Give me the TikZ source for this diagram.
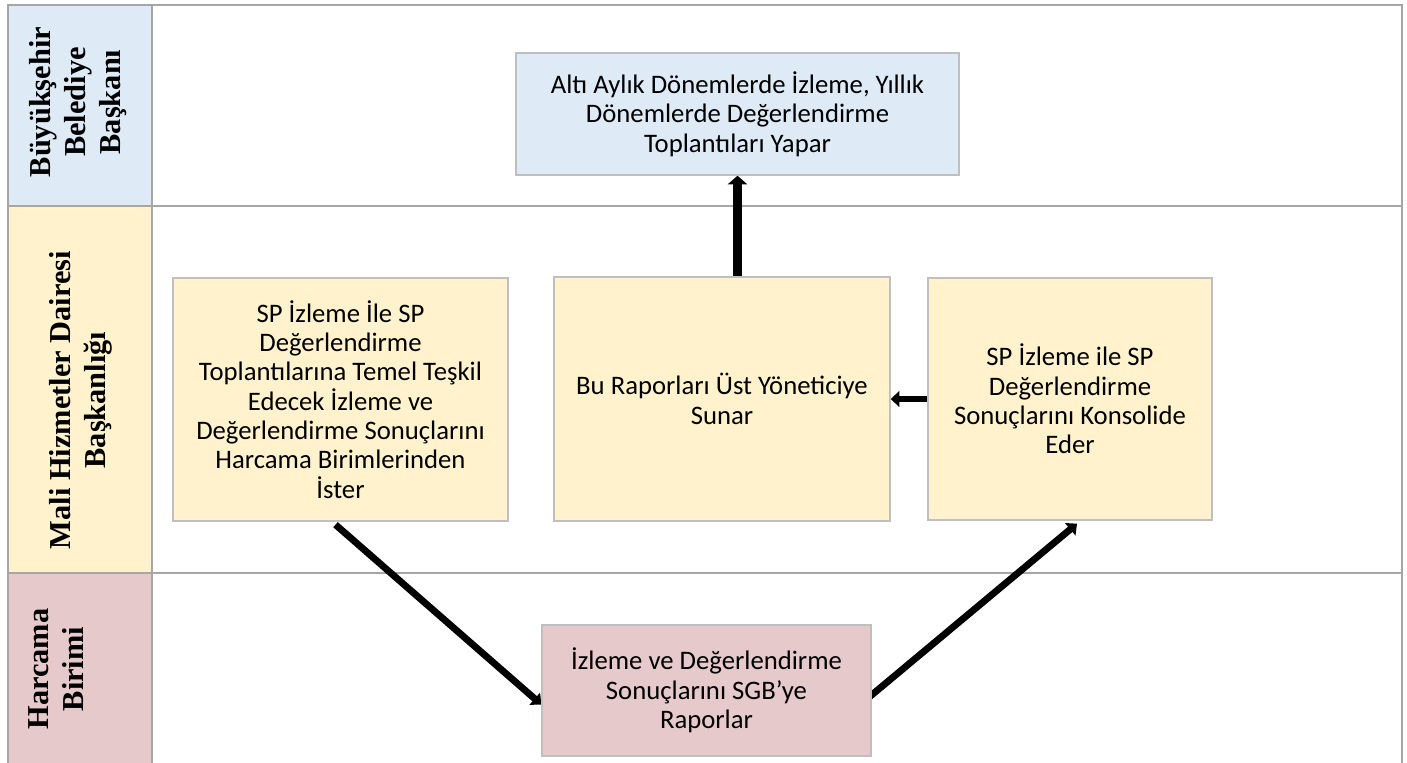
\documentclass[tikz,border=0pt]{standalone}
\usepackage{fontspec}
\setmainfont{Carlito}
\newfontfamily\lanefont{Liberation Serif}
\usepackage{xcolor}
\usepackage{tikz}
\usetikzlibrary{arrows.meta}
\usetikzlibrary{calc}
\pgfdeclarelayer{background}
\pgfdeclarelayer{edgelayer}
\pgfdeclarelayer{nodelayer}
\pgfsetlayers{background,edgelayer,nodelayer,main}
\definecolor{lanegray}{RGB}{166,166,166}
\definecolor{boxgray}{RGB}{191,191,191}
\definecolor{bluefill}{RGB}{222,234,246}
\definecolor{yellowfill}{RGB}{255,242,204}
\definecolor{pinkfill}{RGB}{230,201,202}
\tikzstyle{none}=[inner sep=0mm]
\tikzstyle{lane}=[draw=lanegray,line width=1.1pt]
\tikzstyle{lanetitle}=[inner sep=0mm,rotate=90,align=center,font=\lanefont\bfseries\fontsize{17.3}{20}\selectfont]
\tikzstyle{stepbox}=[draw=boxgray,line width=0.8pt,align=center,inner sep=2pt,font=\fontsize{15.2}{16.7}\selectfont]
\tikzstyle{bluebox}=[stepbox,fill=bluefill]
\tikzstyle{yellowbox}=[stepbox,fill=yellowfill]
\tikzstyle{pinkbox}=[stepbox,fill=pinkfill]
\tikzstyle{flow}=[line width=3.9pt,-{Triangle[length=5pt,width=9pt]}]
\tikzstyle{bigflow}=[line width=5.5pt,-{Triangle[length=5pt,width=11pt]}]

\begin{document}
\begin{tikzpicture}[x=0.02cm,y=-0.02cm]
	\useasboundingbox (0,0) rectangle (1407,762);
	\begin{pgfonlayer}{background}
		% lane headers
		\fill [bluefill] (8,5) rectangle (152,206);
		\fill [yellowfill] (8,206) rectangle (152,573);
		\fill [pinkfill] (8,573) rectangle (152,770);
		\draw [style=lane] (8,770) -- (8,5) -- (1402,5) -- (1402,770);
		\draw [style=lane] (152,5) -- (152,770);
		\draw [style=lane] (8,206) -- (1402,206);
		\draw [style=lane] (8,573) -- (1402,573);
	\end{pgfonlayer}
	\begin{pgfonlayer}{nodelayer}
		\node [style=lanetitle] (baskan) at (78,102) {Büyükşehir\\Belediye\\Başkanı};
		\node [style=lanetitle] (mali) at (81,400) {Mali Hizmetler Dairesi\\Başkanlığı};
		\node [style=lanetitle] (harcama) at (56,669) {Harcama\\Birimi};
		\node [style=bluebox, minimum width=8.86cm, minimum height=2.44cm] (ust) at (737.5,114) {Altı Aylık Dönemlerde İzleme, Yıllık\\Dönemlerde Değerlendirme\\Toplantıları Yapar};
		\node [style=yellowbox, minimum width=6.7cm, minimum height=4.86cm] (istek) at (340.5,399.5) {SP İzleme İle SP\\Değerlendirme\\Toplantılarına Temel Teşkil\\Edecek İzleme ve\\Değerlendirme Sonuçlarını\\Harcama Birimlerinden\\İster};
		\node [style=yellowbox, minimum width=6.72cm, minimum height=4.88cm] (sunar) at (722,399) {Bu Raporları Üst Yöneticiye\\Sunar};
		\node [style=yellowbox, minimum width=5.68cm, minimum height=4.84cm] (konsolide) at (1070,399) {SP İzleme ile SP\\Değerlendirme\\Sonuçlarını Konsolide\\Eder};
		\node [style=pinkbox, minimum width=6.58cm, minimum height=2.62cm] (rapor) at (706.5,690.5) {İzleme ve Değerlendirme\\Sonuçlarını SGB’ye\\Raporlar};
	\end{pgfonlayer}
	\begin{pgfonlayer}{edgelayer}
		\draw [style=bigflow] (sunar.north -| ust.south) to (ust.south);
		\draw [style=flow] (konsolide.west) to (sunar.east);
		\draw [style=flow] ($(istek.south)+(-5,3)$) to ($(rapor.west)+(0,14)$);
		\draw [style=flow] ($(rapor.east)+(-3,7)$) to ($(konsolide.south)+(7,3)$);
	\end{pgfonlayer}
\end{tikzpicture}
\end{document}
